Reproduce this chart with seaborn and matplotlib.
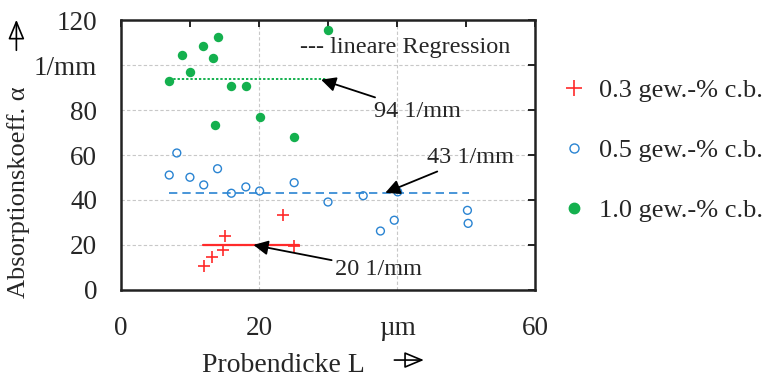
import matplotlib
matplotlib.use("Agg")
import matplotlib.pyplot as plt
import seaborn as sns
import pandas as pd

# ---- data ----
x_03 = [12.0, 13.2, 14.8, 15.1, 23.5, 25.1]
y_03 = [10.7, 14.8, 17.8, 23.9, 33.3, 19.7]

x_05 = [7.0, 8.1, 10.0, 12.0, 14.0, 16.0, 18.1, 20.1, 25.1, 30.0, 35.1, 37.6, 39.6, 40.1, 50.2, 50.3]
y_05 = [51.1, 60.9, 50.1, 46.7, 53.9, 43.0, 45.8, 44.0, 47.7, 39.1, 41.9, 26.2, 31.0, 43.6, 35.4, 29.6]

x_10 = [7.0, 8.9, 10.0, 11.9, 13.4, 14.0, 13.7, 16.0, 18.1, 20.1, 25.1, 30.0]
y_10 = [92.9, 104.4, 96.9, 108.3, 103.0, 112.6, 73.5, 90.7, 90.7, 76.7, 68.1, 115.8]

reg_levels = [20, 43, 94]
reg_x_start = [11.9, 6.9, 7.0]
reg_x_end = [25.8, 50.4, 29.8]

series_labels = ["0.3 gew.-% c.b.", "0.5 gew.-% c.b.", "1.0 gew.-% c.b."]
annot_texts = ["20 1/mm", "43 1/mm", "94 1/mm"]

x_ticks = [0, 20, 40, 60]
x_ticklabels = ["0", "20", "µm", "60"]
y_ticks = [0, 20, 40, 60, 80, 100, 120]
y_ticklabels = ["0", "20", "40", "60", "80", "1/mm", "120"]

red = "#ff2a2a"
blue = "#2a84d2"
green = "#14b04e"

sns.set_theme(style="white")
plt.rcParams["font.family"] = ["Liberation Serif", "DejaVu Serif"]
plt.rcParams["mathtext.fontset"] = "stix"

fig = plt.figure(figsize=(7.8, 3.79), dpi=100)
ax = fig.add_axes([0.155, 0.235, 0.531, 0.712])

df03 = pd.DataFrame({"x": x_03, "y": y_03})
df05 = pd.DataFrame({"x": x_05, "y": y_05})
df10 = pd.DataFrame({"x": x_10, "y": y_10})

# regression lines
colors = [red, blue, green]
styles = ["-", (0, (5, 3)), (0, (1.2, 1.0))]
widths = [1.6, 1.2, 1.4]
for lvl, xs, xe, c, ls, lw in zip(reg_levels, reg_x_start, reg_x_end, colors, styles, widths):
    ldf = pd.DataFrame({"x": [xs, xe], "y": [lvl, lvl]})
    sns.lineplot(data=ldf, x="x", y="y", ax=ax, color=c, linestyle=ls, linewidth=lw, zorder=2)

sns.scatterplot(data=df03, x="x", y="y", ax=ax, marker="+", color=red, s=80,
                linewidth=1.2, zorder=3)
sns.scatterplot(data=df05, x="x", y="y", ax=ax, marker="o", facecolor="none",
                edgecolor=blue, s=32, linewidth=1.0, zorder=3)
sns.scatterplot(data=df10, x="x", y="y", ax=ax, marker="o", color=green, s=46,
                linewidth=0, zorder=3)

ax.set_xlim(0, 60)
ax.set_ylim(0, 120)
ax.set_xticks(x_ticks)
ax.set_xticklabels(x_ticklabels)
ax.set_yticks(y_ticks)
ax.set_yticklabels(y_ticklabels)
ax.set_xticks([10, 30, 50], minor=True)
ax.tick_params(axis="both", which="both", direction="in", labelsize=19.5,
               top=True, right=True, left=False, bottom=True, color="#222222", width=1.4)
ax.tick_params(axis="both", which="major", length=5)
ax.tick_params(axis="both", which="minor", length=5)
ax.tick_params(axis="x", which="both", bottom=False)
ax.tick_params(axis="x", pad=19)
ax.tick_params(axis="y", pad=17)

ax.grid(True, which="major", color="#c8c8c8", linestyle=(0, (3, 2)), linewidth=0.8)
ax.set_axisbelow(True)
for sp in ax.spines.values():
    sp.set_color("#222222")
    sp.set_linewidth(1.8)
    sp.set_visible(True)

ax.set_xlabel("")
ax.set_ylabel("")

# annotations
arrow_kw = dict(arrowstyle="-|>", color="black", lw=1.3, mutation_scale=22, shrinkA=0, shrinkB=0)
ax.annotate(annot_texts[2], xy=(29.0, 93.5), xytext=(36.6, 79.5), fontsize=17.5,
            va="center", ha="left", arrowprops=arrow_kw)
ax.annotate(annot_texts[1], xy=(38.3, 43.2), xytext=(44.4, 58.8), fontsize=17.5,
            va="center", ha="left", arrowprops=arrow_kw)
ax.annotate(annot_texts[0], xy=(19.2, 20.0), xytext=(31.0, 9.2), fontsize=17.5,
            va="center", ha="left", arrowprops=arrow_kw)

# inner legend text
ax.text(25.9, 108.0, "--- lineare Regression", fontsize=17.5, va="center", ha="left")

# right legend
handles = [
    plt.Line2D([], [], marker="+", color=red, linestyle="none", markersize=12, markeredgewidth=1.2),
    plt.Line2D([], [], marker="o", markerfacecolor="none", markeredgecolor=blue,
               linestyle="none", markersize=6.5, markeredgewidth=1.0),
    plt.Line2D([], [], marker="o", color=green, linestyle="none", markersize=7.5),
]
fig.legend(handles, series_labels, loc="upper left", bbox_to_anchor=(0.706, 0.82),
           frameon=False, fontsize=19, labelspacing=1.38, handletextpad=0.45,
           handlelength=1.0, borderaxespad=0)

# axis labels with arrows
fig.text(0.259, 0.018, "Probendicke L", fontsize=20, ha="left", va="baseline")
fig.text(0.024, 0.493, "Absorptionskoeff. α", fontsize=19, rotation=90, ha="center", va="center")
fig.patches.append(matplotlib.patches.FancyArrowPatch((0.502, 0.05), (0.547, 0.05),
                   transform=fig.transFigure, arrowstyle="-|>,head_length=0.6,head_width=0.25",
                   mutation_scale=20, color="black", lw=1.2, fill=False))
fig.patches.append(matplotlib.patches.FancyArrowPatch((0.021, 0.86), (0.021, 0.955),
                   transform=fig.transFigure, arrowstyle="-|>,head_length=0.6,head_width=0.25",
                   mutation_scale=20, color="black", lw=1.2, fill=False))

fig.savefig("out.png", dpi=100)
